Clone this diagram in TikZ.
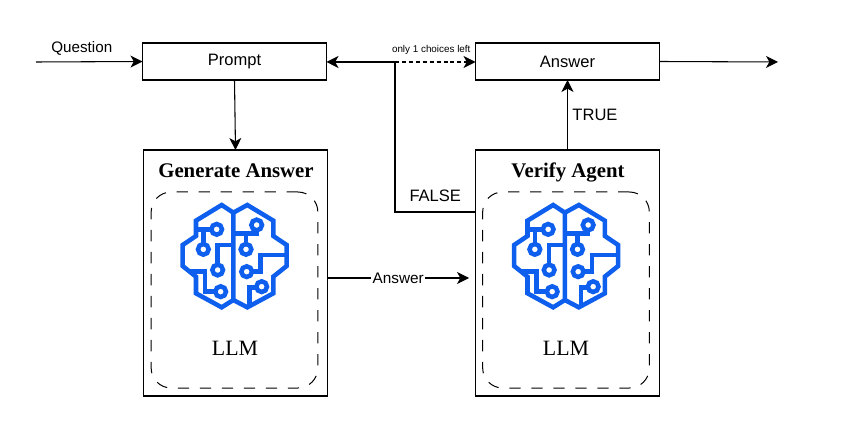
\documentclass[tikz,border=0pt]{standalone}
\usepackage{fontspec}
\setmainfont{Liberation Sans}
\newfontfamily\titlefont{Liberation Serif}
\usetikzlibrary{arrows.meta}
\definecolor{brainblue}{HTML}{0F5FEE}
\tikzset{
brain/.pic={
\begin{scope}[x=0.25pt,y=-0.25pt,line width=3.4pt,draw=brainblue,line join=miter]
%Outline
\draw (190,68) -- (155,45) -- (78,92) -- (78,138) -- (38,165) -- (38,228) -- (78,260) -- (78,310) -- (155,352) -- (190,330) -- cycle;
\draw (190,68) -- (232,45) -- (310,92) -- (310,138) -- (350,165) -- (350,228) -- (310,260) -- (310,310) -- (232,352) -- (190,330);
%Left half
\draw (80,118) -- (125,118);
\draw (100,118) -- (100,163);
\draw (190,165) -- (143,165) -- (143,225);
\draw (60,245) -- (105,245) -- (105,305) -- (137,305);
\draw (140,118) circle (16);
\draw (100,178) circle (16);
\draw (143,240) circle (16);
\draw (152,305) circle (16);
%Right half
\draw (190,130) -- (260,130) -- (260,120);
\draw (228,130) -- (228,163);
\draw (350,195) -- (272,195) -- (272,245) -- (245,245);
\draw (260,293) -- (238,293) -- (238,345);
\draw (260,105) circle (16);
\draw (228,178) circle (16);
\draw (230,245) circle (16);
\draw (275,290) circle (16);
\end{scope}
}
}
\begin{document}
\begin{tikzpicture}[
x=0.75pt,y=-0.75pt,
every node/.style={font=\fontsize{12.4pt}{14pt}\selectfont},
flowbox/.style={rectangle, draw, line width=0.8pt, outer sep=0pt, minimum width=138pt, minimum height=27.75pt},
agentbox/.style={rectangle, draw, line width=0.8pt, outer sep=0pt, minimum width=138pt, minimum height=184.5pt},
llmbox/.style={rectangle, draw, rounded corners=15pt, line width=0.75pt, dash pattern=on 8.5pt off 8pt, outer sep=0pt, minimum width=125pt, minimum height=147pt},
titletext/.style={font=\titlefont\bfseries\fontsize{15.6pt}{17pt}\selectfont, anchor=base},
llmtext/.style={font=\titlefont\fontsize{16.4pt}{18pt}\selectfont},
conn/.style={line width=0.8pt, -{Stealth[length=9pt,width=9pt,inset=2.5pt]}},
]
\useasboundingbox (0,0) rectangle (848,423);
%Nodes
\node[flowbox]  (prompt)   at (234.5,61.5) {Prompt};
\node[flowbox]  (answer)   at (567.5,61.5) {Answer};
\node[agentbox] (generate) at (235.5,273) {};
\node[agentbox] (verify)   at (567.5,273) {};
\node[titletext] (gentitle) at (236,178) {Generate Answer};
\node[titletext] (vertitle) at (568,178) {Verify Agent};
\node[llmbox]   (genllm)   at (234.5,290) {};
\node[llmbox]   (verllm)   at (566,290) {};
\node[llmtext]  (genlabel) at (235,348) {LLM};
\node[llmtext]  (verlabel) at (566,348) {LLM};
\pic at (170,190) {brain};
\pic at (501.5,190) {brain};
%Free ends
\coordinate (start)  at (36,62);
\coordinate (finish) at (778,62);
\coordinate (split)  at (395,62);
\coordinate (turn)   at (395,212);
\coordinate (verin)  at (469,278);

%Lines
\draw[conn] (start) -- node[above=1pt, pos=0.43, font=\fontsize{11.4pt}{13pt}\selectfont] {Question} (prompt.west);
\draw[conn] (prompt.south) -- (generate.north);
\draw[conn] (answer.east) -- (finish);
\draw[conn] (verify.north) -- node[right=0pt] {TRUE} (answer.south);
\draw[conn] (generate.east |- verin) -- node[fill=white, inner sep=1pt, pos=0.5, font=\fontsize{11.5pt}{13pt}\selectfont] {Answer} (verin);
\draw[conn] (verify.west |- turn) -- node[above=4pt, pos=0.5] (falselabel) {FALSE} (turn) -- (split) -- (prompt.east |- split);
\draw[conn, dash pattern=on 3pt off 2.2pt] (split) -- node[above=1.5pt, pos=0.45, font=\fontsize{7.4pt}{8pt}\selectfont] {only 1 choices left} (answer.west |- split);
\end{tikzpicture}
\end{document}
